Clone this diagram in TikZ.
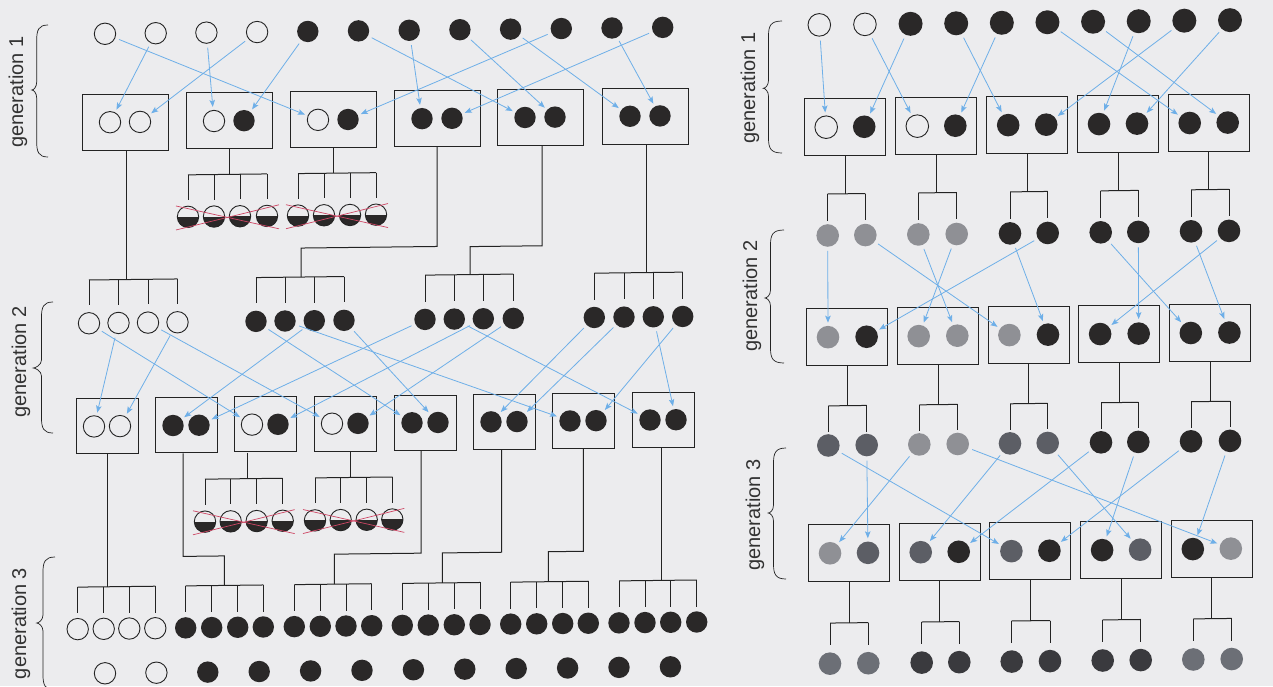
\documentclass[tikz,border=0pt]{standalone}
\usepackage{fontspec}
\setmainfont{Liberation Sans}
\usetikzlibrary{arrows.meta,calc}
\definecolor{paper}{RGB}{236,236,238}
\definecolor{cLine}{RGB}{35,35,35}
\definecolor{cBlack}{RGB}{42,40,40}
\definecolor{cBlue}{RGB}{110,175,232}
\definecolor{cRed}{RGB}{205,70,100}
\definecolor{cLight}{RGB}{143,144,149}
\definecolor{cDark}{RGB}{92,94,101}
\definecolor{cMed}{RGB}{108,111,118}
\definecolor{cDeep}{RGB}{58,58,62}
\definecolor{cText}{RGB}{50,50,50}
\tikzset{
 wc/.style={circle, draw=cLine, line width=0.9pt, minimum size=21.4pt, inner sep=0pt},
 bc/.style={circle, fill=cBlack, minimum size=21.4pt, inner sep=0pt},
 hc/.style={circle, draw=cLine, line width=0.9pt, minimum size=21.4pt, inner sep=0pt,
   path picture={\fill[cBlack] (path picture bounding box.west) -- (path picture bounding box.east) -- (path picture bounding box.south east) -- (path picture bounding box.south west) -- cycle;}},
 rw/.style={circle, draw=cLine, line width=0.9pt, minimum size=22.6pt, inner sep=0pt},
 rf/.style={circle, fill=#1, minimum size=22.6pt, inner sep=0pt},
 rtb/.style={circle, fill=cBlack, minimum size=24pt, inner sep=0pt},
 lbox/.style={draw=cLine, line width=1pt, minimum width=86pt, minimum height=56pt, inner sep=0pt},
 mbox/.style={draw=cLine, line width=1pt, minimum width=62pt, minimum height=55pt, inner sep=0pt},
 rbox/.style={draw=cLine, line width=1pt, minimum width=81pt, minimum height=57pt, inner sep=0pt},
 tln/.style={draw=cLine, line width=1pt},
 arr/.style={draw=cBlue, line width=0.8pt, -{Stealth[length=7pt,width=5.5pt,inset=1.5pt]}, shorten <=4pt, shorten >=3pt},
 xl/.style={draw=cRed, line width=0.7pt},
 brc/.style={draw=cLine, line width=0.7pt},
 lbl/.style={rotate=90, font=\fontsize{20}{24}\selectfont, text=cText, inner sep=0pt}
}
\newcommand{\mygroup}[5]{%
  \draw[tln] (#2 |- #1) -- (#3 |- #1);
  \foreach \c in {#4} {\draw[tln] (\c |- #1) -- ($(\c.north)+(0,-#5)$);}
}
\newcommand{\mycross}[2]{%
  \draw[xl] ($(#1)+(-12,-11)$) -- ($(#2)+(12,13)$);
  \draw[xl] ($(#1)+(-12,13)$) -- ($(#2)+(12,-11)$);
}
\newcommand{\mybrace}[6]{%
  \draw[brc] (#1,#4) .. controls ({#2+2},#4) and (#2,{#4+5}) .. (#2,{#4+15})
    -- (#2,{#5-8}) .. controls (#2,{#5-3}) and ({#3+2},#5) .. (#3,#5)
    .. controls ({#3+2},#5) and (#2,{#5+3}) .. (#2,{#5+8})
    -- (#2,{#6-15}) .. controls (#2,{#6-5}) and ({#2+2},#6) .. (#1,#6);
}
\begin{document}
\begin{tikzpicture}[x=1pt,y=-1pt]
\useasboundingbox (0,0) rectangle (1273,686);
\fill[paper] (0,0) rectangle (1273,686);

% labels and braces
\node[lbl] (lab1) at (18,92) {generation 1};
\node[lbl] (lab2) at (21,362) {generation 2};
\node[lbl] (lab3) at (21,623.5) {generation 3};
\node[lbl] (lab4) at (750,88) {generation 1};
\node[lbl] (lab5) at (752,296) {generation 2};
\node[lbl] (lab6) at (755,515) {generation 3};
\mybrace{48}{36.7}{31.7}{25}{90}{157}
\mybrace{53}{41.5}{33.3}{302}{368}{433}
\mybrace{55}{43}{36.7}{557}{623}{690}
\mybrace{782}{768.5}{763.3}{21}{88.3}{153}
\mybrace{784}{770.5}{765}{230}{298}{363}
\mybrace{786}{773.5}{768.3}{448}{513}{579}

\begin{scope}[cm={1,0.0115,0,1,(0,0)}]
% ================= LEFT PANEL =================
\foreach \i in {0,...,11}{
  \pgfmathsetmacro{\xx}{105+50.7*\i}
  \ifnum\i<4 \node[wc] (a\i) at (\xx,35) {};
  \else \node[bc] (a\i) at (\xx,35) {}; \fi
}
\foreach \n/\x in {lb1/125, lb2/229, lb3/333, lb4/437, lb5/540, lb6/645}
  \node[lbox] (\n) at (\x,123.5) {};
\node[wc] (lb1l) at (110,123.5) {}; \node[wc] (lb1r) at (140,123.5) {};
\node[wc] (lb2l) at (214,123.5) {}; \node[bc] (lb2r) at (244,123.5) {};
\node[wc] (lb3l) at (318,123.5) {}; \node[bc] (lb3r) at (348,123.5) {};
\node[bc] (lb4l) at (422,123.5) {}; \node[bc] (lb4r) at (452,123.5) {};
\node[bc] (lb5l) at (525,123.5) {}; \node[bc] (lb5r) at (555,123.5) {};
\node[bc] (lb6l) at (630,123.5) {}; \node[bc] (lb6r) at (660,123.5) {};
\foreach \s/\t in {a0/lb3l, a1/lb1l, a2/lb2l, a3/lb1r, a4/lb2r, a5/lb5l, a6/lb4l, a7/lb5r, a8/lb6l, a9/lb3r, a10/lb6r, a11/lb4r}
  \draw[arr] (\s) -- (\t);

% crossed offspring of gen1 boxes 2 and 3
\foreach \n/\x in {lh1a/188, lh1b/214, lh1c/240, lh1d/267, lh2a/298, lh2b/324, lh2c/350, lh2d/376}
  \node[hc] (\n) at (\x,219) {};
\coordinate (lj2) at (229,177); \draw[tln] (lb2.south -| lj2) -- (lj2);
\mygroup{lj2}{lh1a}{lh1d}{lh1a,lh1b,lh1c,lh1d}{5.7}
\coordinate (lj3) at (333,177); \draw[tln] (lb3.south -| lj3) -- (lj3);
\mygroup{lj3}{lh2a}{lh2d}{lh2a,lh2b,lh2c,lh2d}{5.7}
\mycross{lh1a}{lh1d}
\mycross{lh2a}{lh2d}

% generation 2 circles
\foreach \n/\x in {wA1/89, wA2/118.5, wA3/148, wA4/177.5}
  \node[wc] (\n) at (\x,324.3) {};
\foreach \n/\x in {wB1/256, wB2/285, wB3/314.3, wB4/344, wC1/425, wC2/454.3, wC3/483.3, wC4/513.3, wD1/594.3, wD2/624, wD3/653.3, wD4/682.7}
  \node[bc] (\n) at (\x,324.3) {};
\coordinate (lj1) at (126,281); \draw[tln] (lb1.south -| lj1) -- (lj1);
\mygroup{lj1}{wA1}{wA4}{wA1,wA2,wA3,wA4}{7}
\coordinate (lk4) at (437,251.5); \coordinate (lj4) at (301,280.5);
\draw[tln] (lb4.south -| lk4) -- (lk4) -| (lj4);
\mygroup{lj4}{wB1}{wB4}{wB1,wB2,wB3,wB4}{7}
\coordinate (lk5) at (542,252); \coordinate (lj5) at (470,280);
\draw[tln] (lb5.south -| lk5) -- (lk5) -| (lj5);
\mygroup{lj5}{wC1}{wC4}{wC1,wC2,wC3,wC4}{7}
\coordinate (lj6) at (646,280); \draw[tln] (lb6.south -| lj6) -- (lj6);
\mygroup{lj6}{wD1}{wD4}{wD1,wD2,wD3,wD4}{7}

% generation 2 boxes
\foreach \n/\x in {m1/107, m2/186, m3/265, m4/345, m5/425, m6/504, m7/583, m8/663}
  \node[mbox] (\n) at (\x,427.5) {};
\node[wc] (m1l) at (94,427.5) {}; \node[wc] (m1r) at (120,427.5) {};
\node[bc] (m2l) at (173,427.5) {}; \node[bc] (m2r) at (199,427.5) {};
\node[wc] (m3l) at (252,427.5) {}; \node[bc] (m3r) at (278,427.5) {};
\node[wc] (m4l) at (332,427.5) {}; \node[bc] (m4r) at (358,427.5) {};
\node[bc] (m5l) at (412,427.5) {}; \node[bc] (m5r) at (438,427.5) {};
\node[bc] (m6l) at (491,427.5) {}; \node[bc] (m6r) at (517,427.5) {};
\node[bc] (m7l) at (570,427.5) {}; \node[bc] (m7r) at (596,427.5) {};
\node[bc] (m8l) at (650,427.5) {}; \node[bc] (m8r) at (676,427.5) {};
\foreach \s/\t in {wA1/m3l, wA2/m1l, wA3/m4l, wA4/m1r, wB1/m5l, wB2/m7l, wB3/m2l, wB4/m5r, wC1/m2r, wC2/m8l, wC3/m3r, wC4/m4r, wD1/m6l, wD2/m6r, wD3/m8r, wD4/m7r}
  \draw[arr] (\s) -- (\t);

% crossed offspring of gen2 boxes 3 and 4
\foreach \n/\x in {h3a/205, h3b/230.7, h3c/256.7, h3d/282.7, h4a/315, h4b/340.7, h4c/366.7, h4d/392.3}
  \node[hc] (\n) at (\x,524) {};
\coordinate (n3) at (247,481.5); \draw[tln] (m3.south -| n3) -- (n3);
\mygroup{n3}{h3a}{h3d}{h3a,h3b,h3c,h3d}{5.8}
\coordinate (n4) at (350,481.5); \draw[tln] (m4.south -| n4) -- (n4);
\mygroup{n4}{h4a}{h4d}{h4a,h4b,h4c,h4d}{5.8}
\mycross{h3a}{h3d}
\mycross{h4a}{h4d}

% generation 3 groups
\foreach \n/\x in {g1a/77.7, g1b/103.7, g1c/129.3, g1d/155.3}
  \node[wc] (\n) at (\x,630) {};
\foreach \n/\x in {g2a/185.7, g2b/211.7, g2c/237.7, g2d/263.3, g5a/294.3, g5b/320.3, g5c/346, g5d/371.7, g6a/402.3, g6b/428.3, g6c/454.3, g6d/480, g7a/510.7, g7b/536.7, g7c/562.7, g7d/588.3, g8a/619, g8b/645, g8c/670.7, g8d/696.7}
  \node[bc] (\n) at (\x,630) {};
\coordinate (n1) at (107,588); \draw[tln] (m1.south -| n1) -- (n1);
\mygroup{n1}{g1a}{g1d}{g1a,g1b,g1c,g1d}{4.5}
\coordinate (k2) at (183,558.5); \coordinate (n2) at (224.3,588);
\draw[tln] (m2.south -| k2) -- (k2) -| (n2);
\mygroup{n2}{g2a}{g2d}{g2a,g2b,g2c,g2d}{4.5}
\coordinate (k5) at (421,558); \coordinate (n5) at (334.3,588);
\draw[tln] (m5.south -| k5) -- (k5) -| (n5);
\mygroup{n5}{g5a}{g5d}{g5a,g5b,g5c,g5d}{4.5}
\coordinate (k6) at (501.7,558); \coordinate (n6) at (442.3,588);
\draw[tln] (m6.south -| k6) -- (k6) -| (n6);
\mygroup{n6}{g6a}{g6d}{g6a,g6b,g6c,g6d}{4.5}
\coordinate (k7) at (583.3,558); \coordinate (n7) at (548.3,588);
\draw[tln] (m7.south -| k7) -- (k7) -| (n7);
\mygroup{n7}{g7a}{g7d}{g7a,g7b,g7c,g7d}{4.5}
\coordinate (n8) at (661.7,588); \draw[tln] (m8.south -| n8) -- (n8);
\mygroup{n8}{g8a}{g8d}{g8a,g8b,g8c,g8d}{4.5}

% bottom row
\foreach \i in {0,...,11}{
  \pgfmathsetmacro{\xx}{105+51.4*\i}
  \ifnum\i<2 \node[wc] (z\i) at (\xx,674.5) {};
  \else \node[bc] (z\i) at (\xx,674.5) {}; \fi
}

% ================= RIGHT PANEL =================
\foreach \i in {0,...,9}{
  \pgfmathsetmacro{\xx}{819.3+45.63*\i}
  \ifnum\i<2 \node[rw] (rt\i) at (\xx,34.3) {};
  \else \node[rtb] (rt\i) at (\xx,34.3) {}; \fi
}
\foreach \n/\x in {rb1/845.2, rb2/936.3, rb3/1027.2, rb4/1118, rb5/1208.7}
  \node[rbox] (\n) at (\x,136.7) {};
\node[rw] (rb1l) at (826.2,136.7) {}; \node[rf=cBlack] (rb1r) at (864.2,136.7) {};
\node[rw] (rb2l) at (917.3,136.7) {}; \node[rf=cBlack] (rb2r) at (955.3,136.7) {};
\node[rf=cBlack] (rb3l) at (1008.2,136.7) {}; \node[rf=cBlack] (rb3r) at (1046.2,136.7) {};
\node[rf=cBlack] (rb4l) at (1099,136.7) {}; \node[rf=cBlack] (rb4r) at (1137,136.7) {};
\node[rf=cBlack] (rb5l) at (1189.7,136.7) {}; \node[rf=cBlack] (rb5r) at (1227.7,136.7) {};
\foreach \s/\t in {rt0/rb1l, rt2/rb1r, rt1/rb2l, rt4/rb2r, rt3/rb3l, rt8/rb3r, rt7/rb4l, rt9/rb4r, rt5/rb5l, rt6/rb5r}
  \draw[arr] (\s) -- (\t);

\foreach \n/\x/\c in {rs0/827.7/cLight, rs1/865.3/cLight, rs2/918.3/cLight, rs3/956.7/cLight, rs4/1010/cBlack, rs5/1047.7/cBlack, rs6/1100.7/cBlack, rs7/1138.3/cBlack, rs8/1191/cBlack, rs9/1229/cBlack}
  \node[rf=\c] (\n) at (\x,245) {};
\foreach \b/\j/\p/\q in {rb1/rj1/rs0/rs1, rb2/rj2/rs2/rs3, rb3/rj3/rs4/rs5, rb4/rj4/rs6/rs7, rb5/rj5/rs8/rs9}{
  \coordinate (\j) at ($(\b.south)+(0,37.8)$);
  \draw[tln] (\b.south) -- (\j);
  \mygroup{\j}{\p}{\q}{\p,\q}{3.3}
}

\foreach \n/\x in {rm1/847.3, rm2/938, rm3/1028.7, rm4/1119.4, rm5/1210.1}
  \node[rbox] (\n) at (\x,346.7) {};
\node[rf=cLight] (rm1l) at (828,346.7) {}; \node[rf=cBlack] (rm1r) at (866.6,346.7) {};
\node[rf=cLight] (rm2l) at (918.7,346.7) {}; \node[rf=cLight] (rm2r) at (957.3,346.7) {};
\node[rf=cLight] (rm3l) at (1009.4,346.7) {}; \node[rf=cBlack] (rm3r) at (1048,346.7) {};
\node[rf=cBlack] (rm4l) at (1100.1,346.7) {}; \node[rf=cBlack] (rm4r) at (1138.7,346.7) {};
\node[rf=cBlack] (rm5l) at (1190.8,346.7) {}; \node[rf=cBlack] (rm5r) at (1229.4,346.7) {};
\foreach \s/\t in {rs0/rm1l, rs5/rm1r, rs3/rm2l, rs2/rm2r, rs1/rm3l, rs4/rm3r, rs9/rm4l, rs7/rm4r, rs6/rm5l, rs8/rm5r}
  \draw[arr] (\s) -- (\t);

\foreach \n/\x/\c in {ru0/828.3/cDark, ru1/866.7/cDark, ru2/919.3/cLight, ru3/957.7/cLight, ru4/1010/cDark, ru5/1047.7/cDark, ru6/1101/cBlack, ru7/1138.3/cBlack, ru8/1191/cBlack, ru9/1230/cBlack}
  \node[rf=\c] (\n) at (\x,455) {};
\foreach \b/\j/\p/\q in {rm1/rk1/ru0/ru1, rm2/rk2/ru2/ru3, rm3/rk3/ru4/ru5, rm4/rk4/ru6/ru7, rm5/rk5/ru8/ru9}{
  \coordinate (\j) at ($(\b.south)+(0,39.7)$);
  \draw[tln] (\b.south) -- (\j);
  \mygroup{\j}{\p}{\q}{\p,\q}{2}
}

\foreach \n/\x in {rn1/849, rn2/939.7, rn3/1030.4, rn4/1121.1, rn5/1211.8}
  \node[rbox] (\n) at (\x,562.8) {};
\node[rf=cLight] (rn1l) at (830,562.8) {}; \node[rf=cDark] (rn1r) at (868,562.8) {};
\node[rf=cDark] (rn2l) at (920.7,562.8) {}; \node[rf=cBlack] (rn2r) at (958.7,562.8) {};
\node[rf=cDark] (rn3l) at (1011.4,562.8) {}; \node[rf=cBlack] (rn3r) at (1049.4,562.8) {};
\node[rf=cBlack] (rn4l) at (1102.1,562.8) {}; \node[rf=cDark] (rn4r) at (1140.1,562.8) {};
\node[rf=cBlack] (rn5l) at (1192.8,562.8) {}; \node[rf=cLight] (rn5r) at (1230.8,562.8) {};
\foreach \s/\t in {ru2/rn1l, ru1/rn1r, ru4/rn2l, ru6/rn2r, ru0/rn3l, ru8/rn3r, ru7/rn4l, ru5/rn4r, ru9/rn5l, ru3/rn5r}
  \draw[arr] (\s) -- (\t);

\foreach \n/\x/\c in {rv0/830/cMed, rv1/868.3/cMed, rv2/921.7/cDeep, rv3/959.3/cDeep, rv4/1011.7/cDeep, rv5/1050/cDeep, rv6/1102.7/cDeep, rv7/1140.7/cDeep, rv8/1193.3/cMed, rv9/1231.7/cMed}
  \node[rf=\c] (\n) at (\x,673.2) {};
\foreach \b/\j/\p/\q in {rn1/rq1/rv0/rv1, rn2/rq2/rv2/rv3, rn3/rq3/rv4/rv5, rn4/rq4/rv6/rv7, rn5/rq5/rv8/rv9}{
  \coordinate (\j) at ($(\b.south)+(0,40.8)$);
  \draw[tln] (\b.south) -- (\j);
  \mygroup{\j}{\p}{\q}{\p,\q}{7}
}
\end{scope}
\end{tikzpicture}
\end{document}
